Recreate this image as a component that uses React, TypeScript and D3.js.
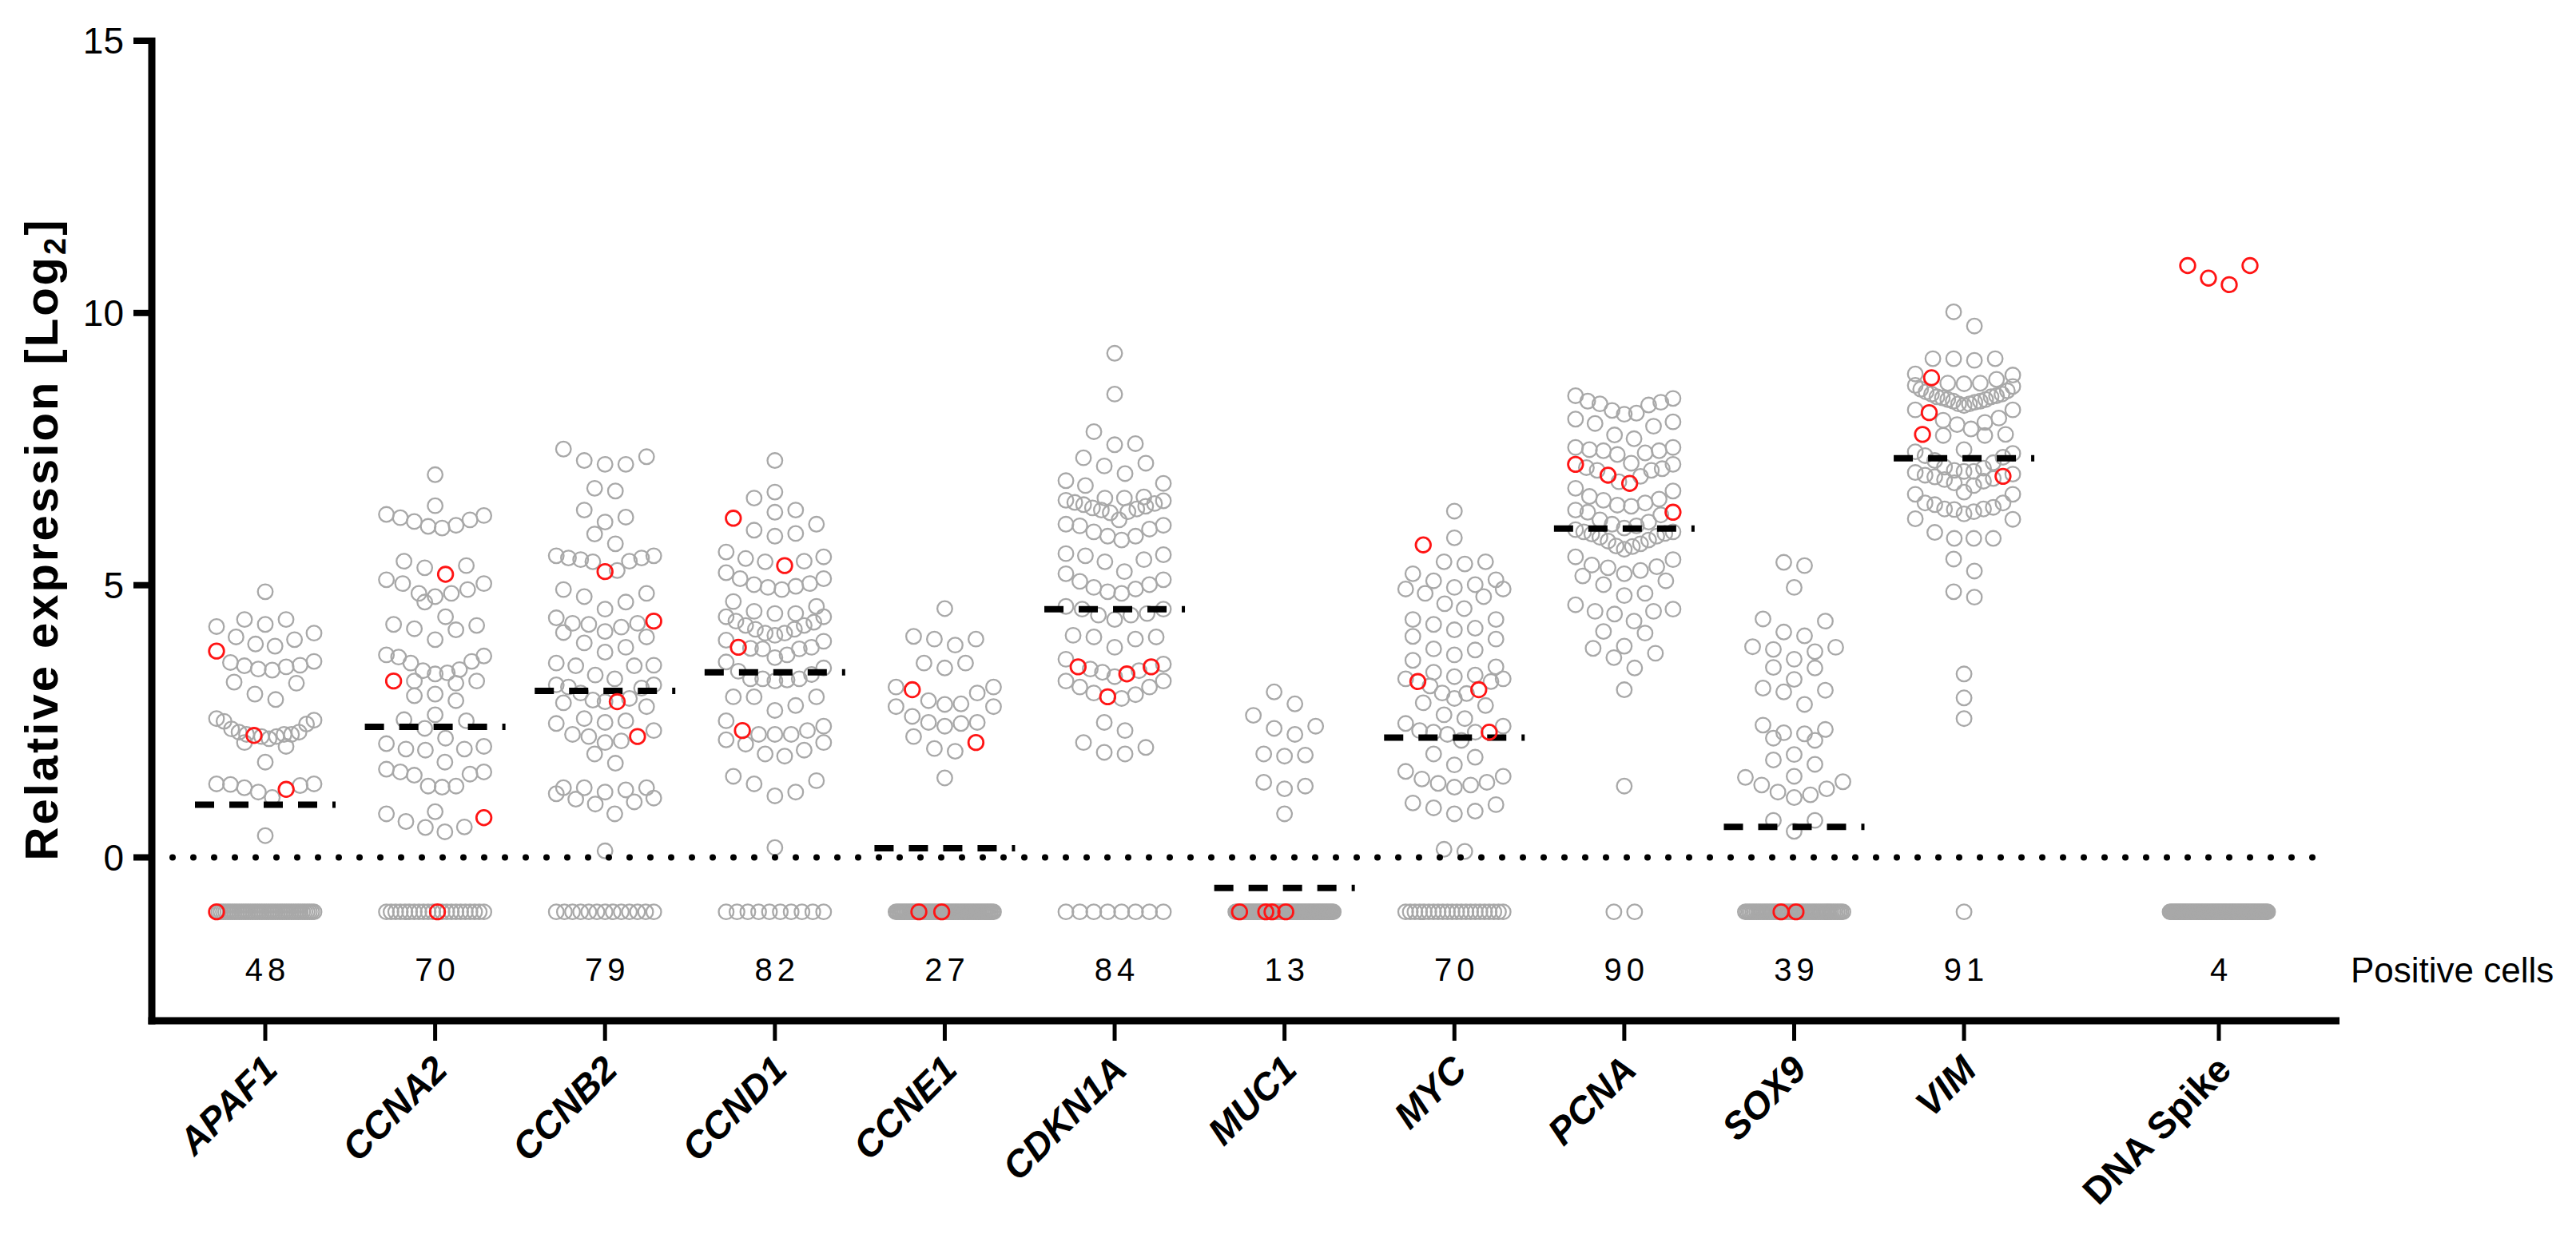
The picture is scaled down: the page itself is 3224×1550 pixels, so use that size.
import * as d3 from "d3"

// categories along the x axis
const genes = ["APAF1", "CCNA2", "CCNB2", "CCND1", "CCNE1", "CDKN1A", "MUC1", "MYC", "PCNA", "SOX9", "VIM", "DNA Spike"]
const positiveCells = [48, 70, 79, 82, 27, 84, 13, 70, 90, 39, 91, 4]
const totalCells = 92
const notDetected = -1
const medians = [0.97, 2.4, 3.06, 3.4, 0.17, 4.56, -0.56, 2.2, 6.04, 0.56, 7.33, null]
const yTicks = [0, 5, 10, 15]

// single-cell values (gray) and reference cells (red), Log2 relative expression
const apaf1 = [4.88, 4.37, 4.37, 4.28, 4.24, 4.12, 4.05, 4.0, 3.92, 3.88, 3.58, 3.52, 3.46, 3.44, 3.5, 3.53, 3.6, 3.2, 3.22, 3.0, 2.9,
  2.5, 2.55, 2.52, 2.45, 2.36, 2.26, 2.26, 2.22, 2.18, 2.22, 2.26, 2.3, 2.3, 2.04, 2.11, 1.75,
  1.35, 1.32, 1.2, 1.28, 1.34, 1.35, 1.1, 0.4]
const apaf1Red = [3.79, 2.24, 1.25]

const ccna2 = [7.03, 6.46, 6.3, 6.24, 6.17, 6.08, 6.05, 6.1, 6.2, 6.28, 5.44, 5.32, 5.1, 5.36, 5.03, 4.85, 4.79, 4.69, 4.85, 4.92, 5.03,
  4.42, 4.26, 4.18, 4.2, 4.28, 4.0, 3.7, 3.57, 3.6, 3.68, 3.72, 3.43, 3.37, 3.24, 3.2, 3.24, 3.39, 3.45, 3.0, 2.88, 2.97,
  2.53, 2.62, 2.51, 2.37, 2.09, 1.99, 2.19, 1.97, 1.99, 2.04, 1.75, 1.57, 1.53, 1.31, 1.29, 1.31, 1.51, 1.57, 1.62,
  0.8, 0.66, 0.55, 0.47, 0.56, 0.84]
const ccna2Red = [5.2, 3.24, 0.73]

const ccnb2 = [7.5, 7.29, 7.22, 7.22, 7.36, 6.78, 6.73, 6.38, 6.16, 6.25, 5.94, 5.76, 5.54, 5.5, 5.47, 5.43, 5.27, 5.44, 5.5, 5.54,
  4.85, 4.79, 4.92, 4.56, 4.69, 4.3, 4.28, 4.15, 4.05, 4.4, 3.94, 4.13, 4.23, 4.3, 3.86, 3.77, 3.53, 3.52, 3.52, 3.57,
  3.35, 3.17, 3.13, 3.11, 3.17, 3.28, 3.02, 2.92, 2.84, 2.77, 2.86, 2.89, 2.55, 2.48, 2.33, 2.14, 2.11, 2.22, 2.26, 2.46, 2.51,
  1.9, 1.73, 1.28, 1.24, 1.2, 1.28, 1.28, 1.09, 1.02, 0.98, 1.07, 1.17, 0.8, 0.12]
const ccnb2Red = [5.25, 4.34, 2.86, 2.22]

const ccnd1 = [7.29, 6.71, 6.6, 6.38, 6.34, 6.01, 5.9, 5.95, 6.12, 5.61, 5.49, 5.43, 5.44, 5.52,
  5.12, 5.03, 4.98, 4.92, 4.96, 5.01, 5.12, 5.23, 4.61, 4.48, 4.48, 4.52, 4.7,
  4.42, 4.32, 4.26, 4.19, 4.12, 4.08, 4.12, 4.19, 4.26, 4.34, 4.42, 3.97, 3.83, 3.72, 3.67, 3.83, 3.84, 3.86, 3.99, 3.59,
  3.28, 3.28, 3.24, 3.26, 3.28, 3.48, 3.36, 3.42, 2.95, 2.79, 2.7, 2.95, 2.95,
  2.51, 2.26, 2.26, 2.26, 2.33, 2.41, 2.08, 1.9, 1.86, 1.97, 2.11, 2.16, 1.49, 1.35, 1.13, 1.2, 1.41, 0.18]
const ccnd1Red = [6.23, 5.36, 3.86, 2.33]

const ccne1 = [4.57, 4.01, 3.9, 4.01, 4.06, 3.57, 3.48, 3.57, 3.13, 2.88, 2.81, 2.82, 3.02, 3.13, 2.77, 2.77,
  2.48, 2.46, 2.41, 2.48, 2.59, 2.22, 1.95, 2.0, 1.46]
const ccne1Red = [3.08, 2.11]

const cdkn1a = [9.26, 8.51, 7.82, 7.58, 7.6, 7.24, 7.34, 7.19, 7.05, 6.87, 6.83, 6.92,
  6.56, 6.48, 6.4, 6.33, 6.35, 6.42, 6.5, 6.55, 6.6, 6.6, 6.62, 6.45, 6.38, 6.52,
  6.12, 6.09, 5.98, 5.9, 5.83, 5.9, 6.03, 6.1, 6.2, 5.58, 5.54, 5.43, 5.47, 5.56,
  5.21, 5.07, 4.96, 4.88, 4.85, 4.93, 5.01, 5.1, 5.25, 4.61, 4.48, 4.45, 4.37, 4.45, 4.56, 4.56,
  4.05, 4.01, 3.86, 4.05, 4.08, 3.64, 3.46, 3.4, 3.32, 3.43, 3.55, 3.24, 3.13, 3.02, 2.92, 2.99, 3.13, 3.24,
  2.48, 2.33, 2.11, 1.93, 1.9, 2.02]
const cdkn1aRed = [3.5, 3.37, 3.5, 2.95]

const muc1 = [3.04, 2.82, 2.61, 2.41, 2.26, 2.37, 1.88, 1.86, 1.9, 1.38, 1.26, 1.31, 0.8]
const muc1Red: number[] = []

const myc = [6.36, 5.87, 5.43, 5.39, 5.43, 5.1, 4.93, 5.01, 4.96, 5.08, 5.21, 4.93, 4.79, 4.85, 4.66, 4.57,
  4.37, 4.21, 4.06, 4.01, 4.18, 4.28, 4.37, 3.81, 3.62, 3.72, 3.83,
  3.28, 3.35, 3.32, 3.23, 3.28, 3.01, 3.02, 2.84, 2.92, 2.79, 2.62, 3.15, 3.4, 3.5,
  2.46, 2.55, 2.33, 2.3, 2.26, 2.3, 2.41, 2.15, 1.9, 1.84, 1.7, 1.49, 1.38, 1.33, 1.29, 1.36, 1.44, 1.58,
  1.0, 0.91, 0.8, 0.85, 0.97, 0.15, 0.11]
const mycRed = [5.74, 3.23, 3.08, 2.3]

const pcna = [8.31, 8.38, 8.48, 8.43, 8.36, 8.21, 8.14, 8.05, 7.97, 7.92, 8.0, 8.16, 8.33,
  7.76, 7.53, 7.47, 7.47, 7.4, 7.43, 7.49, 7.53, 7.69, 7.22, 7.14, 7.11, 6.9, 7.0, 7.11, 7.16, 7.24,
  6.73, 6.58, 6.51, 6.45, 6.47, 6.56, 6.63, 6.78, 6.34, 6.29, 6.38,
  5.98, 5.9, 5.83, 5.76, 5.71, 5.66, 5.72, 5.81, 5.88, 5.94, 5.98, 6.16, 6.12, 6.09, 6.2, 6.02, 6.05, 5.95,
  5.47, 5.34, 5.27, 5.21, 5.32, 5.37, 5.52, 5.17, 5.01, 5.08, 4.64, 4.52, 4.47, 4.81, 4.85, 4.52, 4.56, 4.34,
  4.15, 4.12, 3.88, 3.84, 3.67, 3.75, 3.48, 3.08, 1.31]
const pcnaRed = [7.02, 6.87, 7.22, 6.34]

const sox9 = [5.36, 5.42, 4.96, 4.34, 4.38, 4.14, 4.07, 3.87, 3.82, 3.78, 3.86, 3.64, 3.49, 3.48, 3.27, 3.11, 3.04, 3.07, 2.81,
  2.35, 2.27, 2.15, 2.19, 2.29, 2.43, 1.79, 1.71, 1.89, 1.47, 1.33, 1.2, 1.1, 1.15, 1.26, 1.39, 1.49, 0.68, 0.68, 0.48]
const sox9Red: number[] = []

const vim = [10.02, 9.76, 9.16, 9.16, 9.13, 9.16, 8.86, 8.78, 8.71, 8.67, 8.7, 8.71, 8.88,
  8.65, 8.51, 8.46, 8.41, 8.38, 8.33, 8.3, 8.33, 8.38, 8.41, 8.46, 8.51, 8.57, 8.44, 8.36, 8.48, 8.55, 8.6,
  8.22, 8.03, 7.95, 7.87, 7.99, 8.07, 8.22, 7.77, 7.75, 7.75, 7.49, 7.45, 7.29, 7.35, 7.38, 7.42, 7.25,
  7.04, 7.09, 7.09, 7.11, 7.15, 7.17, 7.07, 6.91, 6.83, 6.88, 6.96, 6.99, 7.02, 6.94,
  6.71, 6.67, 6.67, 6.48, 6.51, 6.4, 6.39, 6.31, 6.35, 6.4, 6.43, 6.51, 6.22, 6.21,
  5.97, 5.86, 5.86, 5.86, 5.48, 5.26, 4.88, 4.78, 3.37, 2.93, 2.55]
const vimRed = [8.81, 8.17, 7.77, 7.0]

const dnaSpike: number[] = []
const dnaSpikeRed = [10.87, 10.64, 10.52, 10.87]

const grayValues = [apaf1, ccna2, ccnb2, ccnd1, ccne1, cdkn1a, muc1, myc, pcna, sox9, vim, dnaSpike]
const redValues = [apaf1Red, ccna2Red, ccnb2Red, ccnd1Red, ccne1Red, cdkn1aRed, muc1Red, mycRed, pcnaRed, sox9Red, vimRed, dnaSpikeRed]
// which of the not-detected cells (in plotting order) are reference cells
const redNegativeIndex = [[0], [11], [], [], [15, 30], [], [3, 24, 29, 40], [], [], [19, 27], [], []]

const W = 3224
const H = 1550
const FONT = "'Liberation Sans', Arial, Helvetica, sans-serif"
const GRAY = "#a8a8a8"
const RED = "#ff1414"
const R = 9.3
const MAX_SPAN = 122
const MAX_STEP = 26
const ROW_RANGE = 0.37

type Pt = { v: number; red: boolean; dx: number }

// GraphPad-like scatter: group close values into rows, lowest value in the middle
function swarm(gray: number[], red: number[]): Pt[] {
  const all = [...gray.map(v => ({ v, red: false })), ...red.map(v => ({ v, red: true }))].sort((a, b) => a.v - b.v)
  const rows: { v: number; red: boolean }[][] = []
  let cur: { v: number; red: boolean }[] = []
  let start = 0
  for (const p of all) {
    if (cur.length && p.v - start >= ROW_RANGE) {
      rows.push(cur)
      cur = []
    }
    if (!cur.length) start = p.v
    cur.push(p)
  }
  if (cur.length) rows.push(cur)

  const out: Pt[] = []
  rows.forEach(row => {
    const n = row.length
    const step = n > 1 ? Math.min(MAX_STEP, MAX_SPAN / (n - 1)) : 0
    row.forEach((p, k) => {
      let off: number
      if (n % 2 === 1) {
        const m = Math.ceil(k / 2)
        off = k === 0 ? 0 : (k % 2 === 1 ? m : -m) * step
      } else {
        const m = Math.floor(k / 2) + 0.5
        off = (k % 2 === 0 ? m : -m) * step
      }
      out.push({ ...p, dx: off })
    })
  })
  return out
}

function negatives(count: number, reds: number[]): Pt[] {
  const step = count > 1 ? Math.min(MAX_STEP, MAX_SPAN / (count - 1)) : 0
  return d3.range(count).map(i => ({
    v: notDetected,
    red: reds.includes(i),
    dx: (i - (count - 1) / 2) * step,
  }))
}

export default function App() {
  const y = d3.scaleLinear().domain([-3, 15]).range([1278, 51])
  // control column sits half a slot further right
  const x = d3.scaleLinear().domain([0, 11.5]).range([332, 2777])
  const slot = (i: number) => (i === genes.length - 1 ? i + 0.5 : i)

  const axisLeft = 190
  const axisBottom = y(-3)

  const columns = genes.map((g, i) => {
    const cx = x(slot(i))
    const pts = [...swarm(grayValues[i], redValues[i]), ...negatives(totalCells - positiveCells[i], redNegativeIndex[i])]
    return { g, i, cx, pts }
  })

  return (
    <svg width={W} height={H} style={{ position: "absolute", left: 0, top: 0, background: "#fff" }} fontFamily={FONT}>
      <rect width={W} height={H} fill="#fff" />

      {/* gray cells */}
      {columns.map(c => (
        <g key={`g-${c.g}`}>
          {c.pts.filter(p => !p.red).map((p, k) => (
            <circle key={k} cx={c.cx + p.dx} cy={y(p.v)} r={R} fill="none" stroke={GRAY} strokeWidth={2.3} />
          ))}
        </g>
      ))}

      {/* zero reference */}
      <line x1={216} x2={2900} y1={y(0)} y2={y(0)} stroke="#000" strokeWidth={8} strokeLinecap="round" strokeDasharray="0 26" />

      {/* medians */}
      {columns.map(c =>
        medians[c.i] === null ? null : (
          <line
            key={`m-${c.g}`}
            x1={c.cx - 88}
            x2={c.cx + 88}
            y1={y(medians[c.i] as number)}
            y2={y(medians[c.i] as number)}
            stroke="#000"
            strokeWidth={8}
            strokeDasharray="24 19"
          />
        )
      )}

      {/* reference cells */}
      {columns.map(c => (
        <g key={`r-${c.g}`}>
          {c.pts.filter(p => p.red).map((p, k) => (
            <circle key={k} cx={c.cx + p.dx} cy={y(p.v)} r={R} fill="none" stroke={RED} strokeWidth={2.8} />
          ))}
        </g>
      ))}

      {/* positive cell counts */}
      {columns.map(c => (
        <text key={`n-${c.g}`} x={c.cx + 3} y={1228} textAnchor="middle" fontSize={40} letterSpacing={6} fill="#000">
          {positiveCells[c.i]}
        </text>
      ))}
      <text x={2942} y={1230} fontSize={44} fill="#000">Positive cells</text>

      {/* y axis */}
      <line x1={axisLeft} x2={axisLeft} y1={47} y2={axisBottom + 4.5} stroke="#000" strokeWidth={9} />
      {yTicks.map(t => (
        <g key={`yt-${t}`}>
          <line x1={167} x2={axisLeft} y1={y(t)} y2={y(t)} stroke="#000" strokeWidth={8} />
          <text x={155} y={y(t)} dy="0.35em" textAnchor="end" fontSize={46} fill="#000">{t}</text>
        </g>
      ))}
      <text
        transform={`translate(72,675) rotate(-90)`}
        textAnchor="middle"
        fontSize={58}
        fontWeight="bold"
        letterSpacing={3}
        fill="#000"
      >
        Relative expression [Log<tspan fontSize={38} dy={10}>2</tspan><tspan dy={-10}>]</tspan>
      </text>

      {/* x axis */}
      <line x1={axisLeft - 4.5} x2={2928} y1={axisBottom} y2={axisBottom} stroke="#000" strokeWidth={9} />
      {columns.map(c => (
        <g key={`xt-${c.g}`}>
          <line x1={c.cx} x2={c.cx} y1={axisBottom} y2={axisBottom + 25} stroke="#000" strokeWidth={5} />
          <text
            transform={`translate(${c.cx + 18},${1342}) rotate(-45)`}
            textAnchor="end"
            fontSize={47}
            fontWeight="bold"
            fontStyle={c.i === genes.length - 1 ? "normal" : "italic"}
            fill="#000"
          >
            {c.g}
          </text>
        </g>
      ))}
    </svg>
  )
}
